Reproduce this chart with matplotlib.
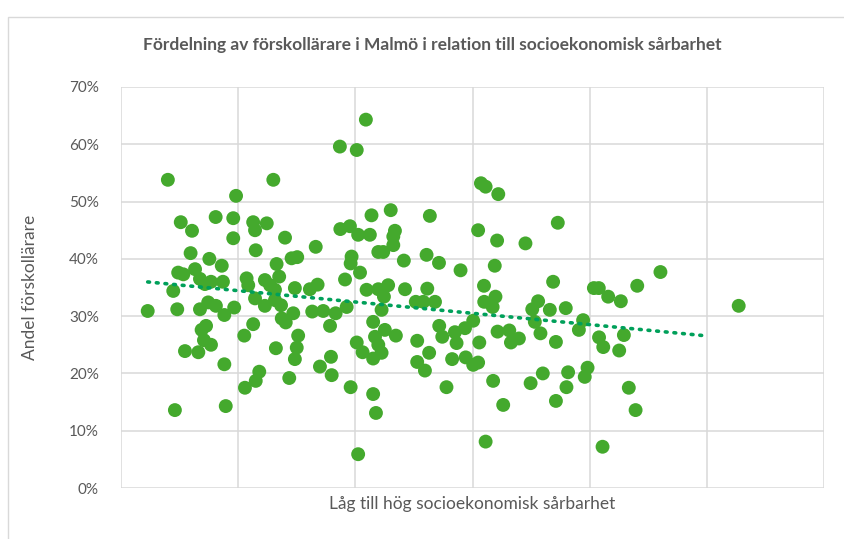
import numpy as np
import matplotlib
matplotlib.use("Agg")
import matplotlib.pyplot as plt
from matplotlib.patches import Rectangle

title = "Fördelning av förskollärare i Malmö i relation till socioekonomisk sårbarhet"
x_label = "Låg till hög socioekonomisk sårbarhet"
y_label = "Andel förskollärare"
y_ticks = [0, 10, 20, 30, 40, 50, 60, 70]
x_grid = [0, 50, 100, 150, 200, 250, 300]

x_vals = [
    20, 49.1, 25.5, 40.4, 47.9, 30.3, 47.9, 29.7, 37.7, 43.0, 24.4, 26.6, 31.6, 33.7, 35.8, 38.4, 43.5,
    22.3, 11.4, 24.0, 33.7, 37.2, 40.5, 44.1, 48.3, 36.3, 34.4, 35.4, 38.4, 27.3, 33.0, 44.1, 23.0, 44.7,
    65.0, 56.4, 62.2, 57.2, 70.0, 83.1, 93.6, 57.5, 72.8, 75.2, 66.4, 67.5, 53.6, 54.3, 61.4, 63.6, 65.7,
    57.2, 61.4, 65.7, 68.3, 74.2, 80.6, 83.9, 68.6, 70.3, 73.5, 81.6, 86.3, 91.6, 89.2, 56.4, 52.6, 75.6,
    75.0, 74.2, 66.1, 89.6, 84.9, 89.9, 59.0, 57.5, 52.9, 71.8,
    104.5, 93.4, 100.6, 106.9, 115.1, 131.8, 97.7, 101.2, 106.2, 116.9, 116.2, 116.2, 109.8, 111.9, 120.7,
    130.4, 135.7, 98.4, 98.0, 102.0, 95.6, 104.8, 109.8, 114.0, 112.2, 121.2, 130.7, 125.8, 129.0, 134.0,
    96.3, 111.2, 107.6, 112.6, 117.3, 108.4, 109.8, 111.2, 107.6, 100.6, 103.1, 135.8, 137.1, 126.4, 126.4,
    129.7, 131.5, 98.0, 107.6, 108.8, 138.9, 101.2,
    153.6, 155.6, 161.0, 152.4, 160.5, 172.6, 144.9, 159.5, 154.9, 159.8, 155.0, 158.6, 178.0, 175.5, 183.0,
    176.6, 150.3, 146.8, 142.5, 143.2, 141.3, 147.1, 150.3, 152.4, 152.9, 160.7, 165.7, 166.4, 169.8, 179.0,
    158.8, 163.1, 174.8, 180.0, 155.6,
    186.4, 184.4, 230.2, 201.8, 203.9, 207.9, 213.3, 220.3, 189.8, 197.2, 195.4, 204.0, 205.8, 214.6, 212.6,
    185.6, 190.8, 199.1, 197.9, 190.1, 185.6, 216.7, 219.6, 205.5, 263.6,
]

y_vals = [
    53.8, 51.0, 46.4, 47.3, 47.1, 44.9, 43.6, 41.0, 40.0, 38.8, 37.6, 37.3, 38.2, 36.5, 35.6, 36.0, 36.0,
    34.4, 30.9, 31.2, 31.2, 32.4, 31.8, 30.2, 31.5, 28.3, 27.6, 25.8, 25.0, 23.9, 23.7, 21.6, 13.6, 14.3,
    53.8, 46.4, 46.2, 45.0, 43.7, 42.1, 45.2, 41.5, 40.1, 40.3, 39.1, 36.9, 36.6, 35.4, 36.3, 35.4, 34.6,
    33.1, 31.8, 32.8, 31.9, 34.9, 34.7, 35.5, 29.6, 28.9, 30.5, 30.8, 30.9, 30.5, 28.3, 28.6, 26.6, 26.6,
    24.5, 22.5, 24.4, 22.9, 21.2, 19.7, 20.3, 18.7, 17.5, 19.2,
    64.3, 59.6, 59.0, 47.6, 48.5, 47.5, 45.7, 44.2, 44.2, 44.9, 43.9, 42.4, 41.2, 41.2, 39.7,
    40.7, 39.3, 40.4, 39.2, 37.6, 36.4, 34.6, 34.7, 35.4, 33.4, 34.7, 34.8, 32.5, 32.5, 32.5,
    31.6, 31.1, 29.0, 27.6, 26.6, 26.4, 25.0, 23.6, 22.6, 25.4, 23.7, 28.3, 26.4, 25.7, 22.0,
    20.5, 23.6, 17.6, 16.4, 13.1, 17.6, 5.9,
    53.2, 52.6, 51.3, 45.0, 43.2, 42.7, 38.0, 38.8, 35.3, 33.4, 32.5, 31.6, 32.6, 31.2, 31.1,
    29.0, 29.2, 27.9, 27.2, 25.3, 22.5, 22.8, 21.5, 21.9, 25.4, 27.3, 27.5, 25.4, 26.1, 27.0,
    18.7, 14.5, 18.3, 20.0, 8.1,
    46.3, 36.0, 37.7, 34.9, 34.9, 33.4, 32.6, 35.3, 31.4, 29.3, 27.6, 26.3, 24.6, 26.7, 24.0,
    25.5, 20.2, 21.0, 19.4, 17.6, 15.2, 17.5, 13.6, 7.2, 31.8,
]

point_color = "#44A92D"
trend_color = "#00A05A"
grid_color = "#D9D9D9"
text_color = "#595959"

plt.rcParams["font.family"] = ["Lato", "DejaVu Sans"]

fig = plt.figure(figsize=(8.45, 5.39), dpi=100)
ax = fig.add_axes([121 / 845, 1 - 488 / 539, (824 - 121) / 845, (488 - 87) / 539])

x = np.array(x_vals)
y = np.array(y_vals)

ax.scatter(x, y, s=100, color=point_color, edgecolors="none", zorder=3)

# linear trendline
slope, intercept = np.polyfit(x, y, 1)
xt = np.linspace(x.min(), x_grid[-2], 50)
ax.plot(xt, slope * xt + intercept, color=trend_color, lw=2.6,
        linestyle=(0, (0.5, 1.9)), dash_capstyle="round", zorder=4)

ax.set_xlim(x_grid[0], x_grid[-1])
ax.set_ylim(y_ticks[0], y_ticks[-1])
ax.set_xticks(x_grid)
ax.set_xticklabels([])
ax.set_yticks(y_ticks)
ax.set_yticklabels([f"{v}%" for v in y_ticks], color=text_color, fontsize=11)
ax.tick_params(axis="both", length=0)
ax.tick_params(axis="y", pad=16)
ax.grid(True, color=grid_color, lw=1.1, zorder=0)
ax.set_axisbelow(True)
for s in ax.spines.values():
    s.set_visible(False)

ax.set_xlabel(x_label, color=text_color, fontsize=12.5, labelpad=2)
ax.set_ylabel(y_label, color=text_color, fontsize=12.5, labelpad=22)

fig.text(0.512, 1 - 45 / 539, title, ha="center", va="center",
         fontsize=12.5, fontweight="bold", color=text_color)

# chart border
fig.patches.append(Rectangle((8 / 845, -0.1), 1.2, 1 - 17 / 539 + 0.1,
                             transform=fig.transFigure, fill=False,
                             edgecolor=grid_color, lw=1.0))

fig.savefig("out.png", dpi=100, facecolor="white")
